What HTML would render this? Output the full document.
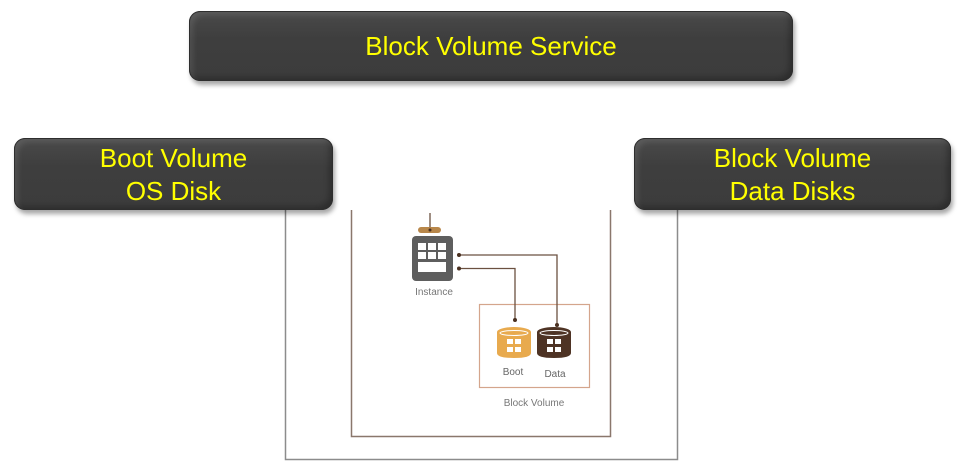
<!DOCTYPE html>
<html><head><meta charset="utf-8"><style>
html,body{margin:0;padding:0;background:#fff;}
body{width:970px;height:470px;position:relative;overflow:hidden;font-family:"Liberation Sans",Arial,sans-serif;}
.btn{position:absolute;box-sizing:border-box;border-radius:11px;
background:linear-gradient(#4a4a4a,#3e3e3e 40%,#3c3c3c);
box-shadow:inset 0 0 0 1px #2e2e2e, inset 4px 4px 6px rgba(255,255,255,0.10), inset -4px -4px 6px rgba(0,0,0,0.25), 2px 4px 5px rgba(0,0,0,0.35);
color:#ffff00;text-align:center;font-size:26px;}
svg{position:absolute;left:0;top:0;}
</style></head><body>
<svg width="970" height="470" viewBox="0 0 970 470">
  <!-- outer frame -->
  <polyline points="285.5,210 285.5,459.5 677.5,459.5 677.5,210" fill="none" stroke="#8c8c8c" stroke-width="1.5"/>
  <!-- inner frame -->
  <polyline points="351.5,210 351.5,436.5 610.5,436.5 610.5,210" fill="none" stroke="#8a776c" stroke-width="1.5"/>
  <!-- block volume box -->
  <rect x="479.5" y="304.5" width="110" height="83" fill="none" stroke="#d4a58c" stroke-width="1.2"/>
  <text x="534" y="406" font-size="10" fill="#777" text-anchor="middle" font-family="Liberation Sans, sans-serif">Block Volume</text>
  <!-- instance icon -->
  <line x1="430" y1="213" x2="430" y2="230" stroke="#6b5040" stroke-width="1.3"/>
  <rect x="418" y="227" width="23" height="6" rx="3" fill="#b8874a"/>
  <circle cx="430" cy="230" r="1.5" fill="#4a3020"/>
  <rect x="412" y="236" width="41" height="45" rx="4" fill="#5e5e5e"/>
  <g fill="#fff">
    <rect x="418" y="243" width="8" height="7"/>
    <rect x="428" y="243" width="8" height="7"/>
    <rect x="438" y="243" width="8" height="7"/>
    <rect x="418" y="252" width="8" height="7"/>
    <rect x="428" y="252" width="8" height="7"/>
    <rect x="438" y="252" width="8" height="7"/>
    <rect x="418" y="262" width="28" height="10"/>
  </g>
  <text x="434" y="295" font-size="10" fill="#777" text-anchor="middle" font-family="Liberation Sans, sans-serif">Instance</text>
  <!-- connectors -->
  <polyline points="459,255 557,255 557,325" fill="none" stroke="#6b5040" stroke-width="1.3"/>
  <polyline points="459,268.5 515,268.5 515,320" fill="none" stroke="#6b5040" stroke-width="1.3"/>
  <circle cx="459" cy="255" r="2" fill="#4a3020"/>
  <circle cx="459" cy="268.5" r="2" fill="#4a3020"/>
  <circle cx="515" cy="320" r="2" fill="#4a3020"/>
  <circle cx="557" cy="325" r="2" fill="#4a3020"/>
  <!-- boot cylinder -->
  <path d="M497,332 L497,353 Q497,358 514,358 Q531,358 531,353 L531,332 Z" fill="#e8aa4e"/>
  <ellipse cx="514" cy="332" rx="17" ry="5" fill="#e8aa4e"/>
  <ellipse cx="514" cy="333" rx="14" ry="2.5" fill="none" stroke="#fff" stroke-width="1"/>
  <g fill="#fff">
    <rect x="507" y="339" width="6" height="5"/><rect x="515" y="339" width="6" height="5"/>
    <rect x="507" y="347" width="6" height="5"/><rect x="515" y="347" width="6" height="5"/>
  </g>
  <text x="513" y="375" font-size="10" fill="#666" text-anchor="middle" font-family="Liberation Sans, sans-serif">Boot</text>
  <!-- data cylinder -->
  <path d="M537,332 L537,353 Q537,358 554,358 Q571,358 571,353 L571,332 Z" fill="#4e3324"/>
  <ellipse cx="554" cy="332" rx="17" ry="5" fill="#4e3324"/>
  <ellipse cx="554" cy="333" rx="14" ry="2.5" fill="none" stroke="#fff" stroke-width="1"/>
  <g fill="#fff">
    <rect x="547" y="339" width="6" height="5"/><rect x="555" y="339" width="6" height="5"/>
    <rect x="547" y="347" width="6" height="5"/><rect x="555" y="347" width="6" height="5"/>
  </g>
  <text x="555" y="377" font-size="10" fill="#666" text-anchor="middle" font-family="Liberation Sans, sans-serif">Data</text>
</svg>
<div class="btn" style="left:189px;top:11px;width:604px;height:70px;line-height:70px;">Block Volume Service</div>
<div class="btn" style="left:14px;top:138px;width:319px;height:72px;line-height:33px;padding-top:4px;">Boot Volume<br>OS Disk</div>
<div class="btn" style="left:634px;top:138px;width:317px;height:72px;line-height:33px;padding-top:4px;">Block Volume<br>Data Disks</div>
</body></html>
